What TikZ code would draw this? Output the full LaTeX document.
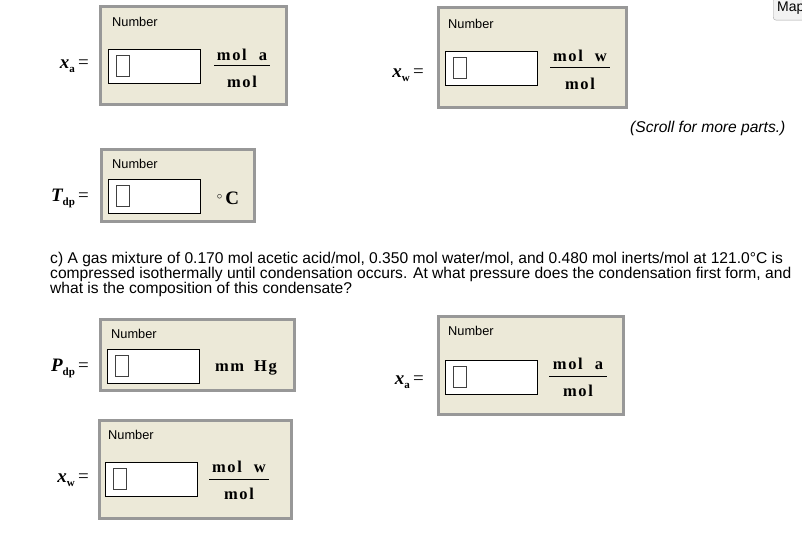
\documentclass[tikz,border=0pt]{standalone}
\usepackage{fontspec}
\setmainfont{Liberation Sans}
\newfontfamily\unitfont[LetterSpace=10]{Liberation Serif}
\newfontfamily\varfont{Liberation Serif}
\usetikzlibrary{positioning}
\definecolor{panelbg}{HTML}{ECE9D8}
\definecolor{panelrim}{HTML}{989898}
\definecolor{mapbg}{HTML}{F2F2F2}

\tikzset{
  panel/.style={draw=panelrim,line width=3pt,fill=panelbg,anchor=north west,inner sep=0pt},
  field/.style={draw=black,line width=0.9pt,fill=white,minimum width=92pt,minimum height=34pt,anchor=north west,inner sep=0pt},
  caret/.style={draw=black!75,line width=0.7pt,minimum width=13pt,minimum height=21pt,anchor=north west,inner sep=0pt},
  numtag/.style={font=\fontsize{12.8}{14}\selectfont,anchor=west,inner sep=0pt},
  unit/.style={font=\fontsize{16.5}{18}\selectfont\unitfont\bfseries,inner sep=0pt},
  varlab/.style={font=\fontsize{19}{21}\selectfont\varfont,anchor=east,inner sep=0pt},
  fracbar/.style={line width=1pt}
}
\newcommand{\varsub}[2]{{\bfseries\itshape #1}\raisebox{-4pt}{\fontsize{11}{11}\selectfont\bfseries #2}\,=}

\begin{document}
\begin{tikzpicture}[x=1pt,y=-1pt]
  \useasboundingbox (0,0) rectangle (802,548);
  % x_a, top left
  \node[panel,minimum width=186pt,minimum height=98pt] (pA) at (99,5) {};
  \node[numtag] (nA) at (112,22) {Number};
  \node[field] (fA) at (108,49) {};
  \node[caret] (cA) at (116,55) {};
  \node[unit] (uAn) at (242,55) {mol\hspace{12pt}a};
  \node[unit] (uAd) at (242,82) {mol};
  \draw[fracbar] (214,66) -- (270,66);
  \node[varlab] (vA) at (89,66) {\varsub{x}{a}};
  % x_w, top right
  \node[panel,minimum width=188pt,minimum height=100pt] (pB) at (437,6) {};
  \node[numtag] (nB) at (448,24) {Number};
  \node[field] (fB) at (445,51) {};
  \node[caret] (cB) at (453,57) {};
  \node[unit] (uBn) at (580,56) {mol\hspace{12pt}w};
  \node[unit] (uBd) at (580,84) {mol};
  \draw[fracbar] (550,68) -- (610,68);
  \node[varlab] (vB) at (424,75) {\varsub{x}{w}};
  % Map button
  \node[draw=gray!70,fill=mapbg,rounded corners=3pt,minimum width=42pt,minimum height=23pt,anchor=north west,inner sep=0pt] (map) at (773,-3) {};
  \node[font=\fontsize{14}{16}\selectfont,anchor=west,inner sep=0pt] (mapt) at (777,8) {Map};
  \node[font=\fontsize{15.6}{18}\selectfont\itshape,anchor=west,inner sep=0pt] (scroll) at (630,128) {(Scroll for more parts.)};
  % T_dp
  \node[panel,minimum width=153pt,minimum height=72pt] (pC) at (100,148) {};
  \node[numtag] (nC) at (112,164) {Number};
  \node[field] (fC) at (108,179) {};
  \node[caret] (cC) at (116,185) {};
  \node[unit,font=\fontsize{19}{21}\selectfont\varfont\bfseries] (uC) at (228,198) {\raisebox{5pt}{\fontsize{11}{11}\selectfont$\circ$}\,C};
  \node[varlab] (vC) at (89,198) {\varsub{T}{dp}};
  % part c)
  \node[font=\fontsize{15.6}{15}\selectfont,align=left,anchor=north west,inner sep=0pt] (qc) at (50,252)
    {c) A gas mixture of 0.170 mol acetic acid/mol, 0.350 mol water/mol, and 0.480 mol inerts/mol at 121.0\textdegree C is\\
     compressed isothermally until condensation occurs. At what pressure does the condensation first form, and\\
     what is the composition of this condensate?};
  % P_dp
  \node[panel,minimum width=194pt,minimum height=71pt] (pD) at (99,318) {};
  \node[numtag] (nD) at (111,334) {Number};
  \node[field] (fD) at (107,349) {};
  \node[caret] (cD) at (115,355) {};
  \node[unit] (uD) at (246,368) {mm\hspace{10pt}Hg};
  \node[varlab] (vD) at (89,368) {\varsub{P}{dp}};
  % x_w, bottom
  \node[panel,minimum width=192pt,minimum height=98pt] (pE) at (98,419) {};
  \node[numtag] (nE) at (108,435) {Number};
  \node[field] (fE) at (105,462) {};
  \node[caret] (cE) at (113,468) {};
  \node[unit] (uEn) at (239,467) {mol\hspace{12pt}w};
  \node[unit] (uEd) at (239,494) {mol};
  \draw[fracbar] (209,479) -- (269,479);
  \node[varlab] (vE) at (89,480) {\varsub{x}{w}};
  % x_a, bottom right
  \node[panel,minimum width=185pt,minimum height=98pt] (pF) at (437,315) {};
  \node[numtag] (nF) at (448,331) {Number};
  \node[field] (fF) at (445,360) {};
  \node[caret] (cF) at (453,366) {};
  \node[unit] (uFn) at (578,364) {mol\hspace{12pt}a};
  \node[unit] (uFd) at (578,391) {mol};
  \draw[fracbar] (549,376) -- (607,376);
  \node[varlab] (vF) at (424,382) {\varsub{x}{a}};
\end{tikzpicture}
\end{document}
